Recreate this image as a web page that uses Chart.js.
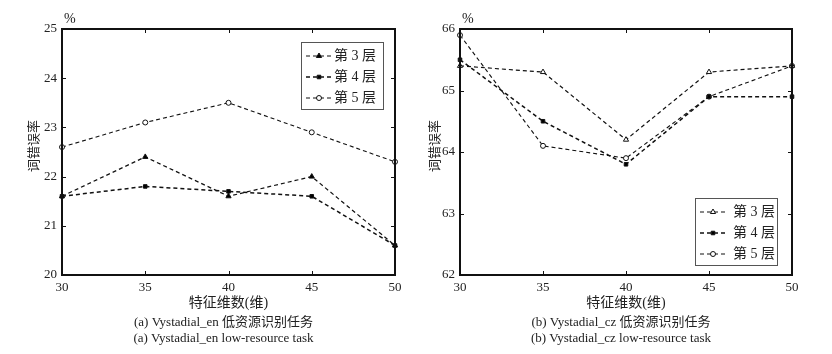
<!DOCTYPE html>
<html>
<head>
<meta charset="utf-8">
<script src="https://cdn.jsdelivr.net/npm/chart.js@4"></script>
<style>
  html, body { margin: 0; padding: 0; background: #fff; }
  #wrap { display: flex; width: 832px; height: 354px; }
  canvas { display: block; }
</style>
</head>
<body>
<div id="wrap">
  <canvas id="enChart" width="416" height="354"></canvas>
  <canvas id="czChart" width="416" height="354"></canvas>
</div>
<script>
// feature dimension (x axis)
const dims = [30, 35, 40, 45, 50];

// word error rate, Vystadial_en
const en3 = [21.6, 22.4, 21.6, 22.0, 20.6];
const en4 = [21.6, 21.8, 21.7, 21.6, 20.6];
const en5 = [22.6, 23.1, 23.5, 22.9, 22.3];

// word error rate, Vystadial_cz
const cz3 = [65.4, 65.3, 64.2, 65.3, 65.4];
const cz4 = [65.5, 64.5, 63.8, 64.9, 64.9];
const cz5 = [65.9, 64.1, 63.9, 64.9, 65.4];

const layerNames = ["第 3 层", "第 4 层", "第 5 层"];
const enRange = [20, 25];
const czRange = [62, 66];

const xTitle = "特征维数(维)";
const yTitle = "词错误率";

const SERIF = '"Liberation Serif", "Noto Sans CJK SC", serif';

function makeSets(vals, filledTri) {
    const styles = [
        { pointStyle: "triangle", bg: filledTri ? "#000" : "#fff", r: 3, w: 1.2 },
        { pointStyle: "rect", bg: "#000", r: 2.5, w: 1.5 },
        { pointStyle: "circle", bg: "#fff", r: 2.5, w: 1.1 }
    ];
    return vals.map((v, i) => ({
        label: layerNames[i],
        data: v.map((y, k) => ({ x: dims[k], y })),
        borderColor: "#111",
        borderWidth: styles[i].w,
        borderDash: [4, 3],
        pointStyle: styles[i].pointStyle,
        pointRadius: styles[i].r,
        pointBackgroundColor: styles[i].bg,
        pointBorderColor: "#111",
        pointBorderWidth: 1,
        clip: false,
        tension: 0
    }));
}

// frame, inward ticks, texts and legend drawn on top
const decor = {
    id: "decor",
    afterDraw(chart, args, o) {
        const { ctx, chartArea: a, scales: { x, y } } = chart;
        ctx.save();

        // inner ticks on all four sides
        ctx.strokeStyle = "#111";
        ctx.lineWidth = 1;
        ctx.beginPath();
        x.ticks.forEach(t => {
            const px = Math.round(x.getPixelForValue(t.value)) + 0.5;
            ctx.moveTo(px, a.top); ctx.lineTo(px, a.top + 4);
            ctx.moveTo(px, a.bottom); ctx.lineTo(px, a.bottom - 4);
        });
        y.ticks.forEach(t => {
            const py = Math.round(y.getPixelForValue(t.value)) + 0.5;
            ctx.moveTo(a.left, py); ctx.lineTo(a.left + 4, py);
            ctx.moveTo(a.right, py); ctx.lineTo(a.right - 4, py);
        });
        ctx.stroke();

        // frame
        ctx.lineWidth = 2;
        ctx.strokeRect(a.left, a.top, a.right - a.left, a.bottom - a.top);

        ctx.fillStyle = "#222";
        // percent sign
        ctx.font = "14px " + SERIF;
        ctx.textAlign = "left";
        ctx.textBaseline = "alphabetic";
        ctx.fillText("%", a.left + 2, a.top - 6);

        // y title
        ctx.save();
        ctx.translate(o.yTitleX, (a.top + a.bottom) / 2 - 6);
        ctx.rotate(-Math.PI / 2);
        ctx.textAlign = "center";
        ctx.textBaseline = "middle";
        ctx.font = "13px " + SERIF;
        ctx.fillText(yTitle, 0, 0);
        ctx.restore();

        // x title and captions
        const cx = (a.left + a.right) / 2;
        ctx.textAlign = "center";
        ctx.textBaseline = "middle";
        ctx.font = "14px " + SERIF;
        ctx.fillText(xTitle, cx, 303);
        ctx.font = "13px " + SERIF;
        ctx.fillText(o.caption1, cx + o.capShift, 323);
        ctx.fillText(o.caption2, cx + o.capShift, 339);

        // legend box
        const L = o.legend;
        ctx.fillStyle = "#fff";
        ctx.fillRect(L.x, L.y, L.w, L.h);
        ctx.strokeStyle = "#555";
        ctx.lineWidth = 1;
        ctx.strokeRect(L.x + 0.5, L.y + 0.5, L.w, L.h);
        chart.data.datasets.forEach((ds, i) => {
            const ly = L.y + 14 + i * 21;
            ctx.save();
            ctx.strokeStyle = "#111";
            ctx.lineWidth = ds.borderWidth;
            ctx.setLineDash([4, 3]);
            ctx.beginPath();
            ctx.moveTo(L.x + 5, ly);
            ctx.lineTo(L.x + 5 + L.sample, ly);
            ctx.stroke();
            ctx.restore();

            ctx.save();
            ctx.fillStyle = ds.pointBackgroundColor;
            ctx.strokeStyle = "#111";
            ctx.lineWidth = 1;
            Chart.helpers.drawPoint(ctx, {
                pointStyle: ds.pointStyle,
                radius: ds.pointRadius,
                borderWidth: 1,
                rotation: 0
            }, L.x + 5 + L.sample / 2, ly);
            ctx.restore();

            ctx.fillStyle = "#222";
            ctx.textAlign = "left";
            ctx.textBaseline = "middle";
            ctx.font = "14px " + SERIF;
            ctx.fillText(ds.label, L.x + L.textX, ly);
        });
        ctx.restore();
    }
};

function buildChart(id, vals, range, filledTri, pad, opts) {
    return new Chart(document.getElementById(id), {
        type: "line",
        data: { datasets: makeSets(vals, filledTri) },
        options: {
            responsive: false,
            animation: false,
            layout: { padding: { left: 0, right: pad.right, top: 29, bottom: 0 } },
            plugins: {
                legend: { display: false },
                tooltip: { enabled: false },
                decor: opts
            },
            scales: {
                x: {
                    type: "linear",
                    min: 30, max: 50,
                    afterFit: s => { s.height = 79; },
                    ticks: { stepSize: 5, color: "#222", padding: 5, font: { family: SERIF, size: 13 } },
                    grid: { display: false, drawTicks: false },
                    border: { display: false }
                },
                y: {
                    min: range[0], max: range[1],
                    afterFit: s => { s.width = pad.left; },
                    ticks: { stepSize: 1, color: "#222", padding: 5, font: { family: SERIF, size: 13 } },
                    grid: { display: false, drawTicks: false },
                    border: { display: false }
                }
            }
        },
        plugins: [decor]
    });
}

buildChart("enChart", [en3, en4, en5], enRange, true, { left: 62, right: 21 }, {
    yTitleX: 35,
    caption1: "(a) Vystadial_en 低资源识别任务",
    caption2: "(a) Vystadial_en low-resource task",
    capShift: -5,
    legend: { x: 301, y: 42, w: 82, h: 67, sample: 26, textX: 33 }
});

buildChart("czChart", [cz3, cz4, cz5], czRange, false, { left: 44, right: 40 }, {
    yTitleX: 20,
    caption1: "(b) Vystadial_cz 低资源识别任务",
    caption2: "(b) Vystadial_cz low-resource task",
    capShift: -5,
    legend: { x: 279, y: 198, w: 82, h: 67, sample: 26, textX: 38 }
});
</script>
</body>
</html>
